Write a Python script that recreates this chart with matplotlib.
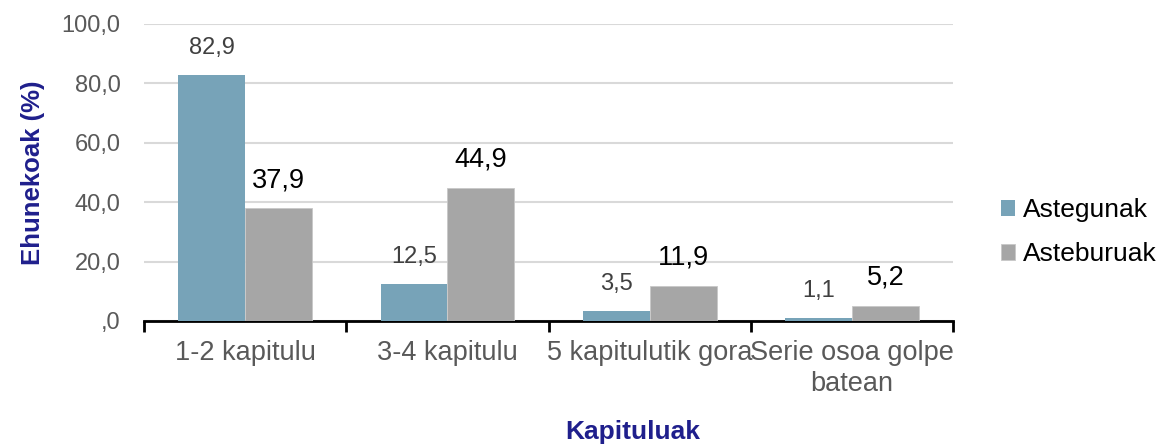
import matplotlib
matplotlib.use('Agg')
import matplotlib.pyplot as plt
import numpy as np

plt.rcParams['font.family'] = ['Liberation Sans', 'DejaVu Sans']

categories = ["1-2 kapitulu", "3-4 kapitulu", "5 kapitulutik gora", "Serie osoa golpe\nbatean"]
astegunak = [82.9, 12.5, 3.5, 1.1]
asteburuak = [37.9, 44.9, 11.9, 5.2]
yticks = [0, 20, 40, 60, 80, 100]

blue = '#77A3B8'
grey = '#A6A6A6'
navy = '#1F1F8C'

fig = plt.figure(figsize=(11.56, 4.45), dpi=100)
ax = fig.add_axes([0.1246, 0.2787, 0.7, 0.6674])

x = np.arange(len(categories))
w = 0.33
b1 = ax.bar(x - w/2, astegunak, w, color=blue, label='Astegunak', zorder=3)
b2 = ax.bar(x + w/2, asteburuak, w, color=grey, label='Asteburuak', zorder=3,
            edgecolor='#C8C8C8', linewidth=0.6)

for r, v in zip(b1, astegunak):
    ax.annotate(f"{v:.1f}".replace('.', ','), (r.get_x() + r.get_width()/2, v),
                xytext=(0, 11.5), textcoords='offset points', ha='center', va='bottom',
                fontsize=17, color='#404040')
for r, v in zip(b2, asteburuak):
    ax.annotate(f"{v:.1f}".replace('.', ','), (r.get_x() + r.get_width()/2, v),
                xytext=(0, 11), textcoords='offset points', ha='center', va='bottom',
                fontsize=19.5, color='black')

ax.set_xlim(-0.5, len(categories) - 0.5)
ax.set_ylim(0, 100)
ax.set_yticks(yticks)
ax.set_yticklabels([",0" if v == 0 else f"{v:.1f}".replace('.', ',') for v in yticks],
                   fontsize=17, color='#595959')
ax.tick_params(axis='y', length=0, pad=17)
ax.yaxis.grid(True, color='#D9D9D9', linewidth=1.5, zorder=0)
ax.set_axisbelow(True)

ax.set_xticks(np.arange(-0.5, len(categories)), minor=False)
ax.set_xticklabels([])
ax.set_xticks(x, minor=True)
ax.set_xticklabels(categories, minor=True, fontsize=19.5, color='#595959', linespacing=1.25)
ax.tick_params(axis='x', which='major', length=8, width=2, direction='out', color='black')
ax.tick_params(axis='x', which='minor', length=0, pad=14)

for s in ['top', 'right', 'left']:
    ax.spines[s].set_visible(False)
ax.spines['bottom'].set_linewidth(2)

ax.set_ylabel("Ehunekoak (%)", fontsize=18.5, fontweight='bold', color=navy, labelpad=12)
fig.text(0.547, 0.029, "Kapituluak", fontsize=19, fontweight='bold', color=navy,
         ha='center', va='center')

fig.legend(handles=[b1, b2], loc='center left', bbox_to_anchor=(0.845, 0.478),
           frameon=False, fontsize=19, handlelength=0.55, handleheight=0.55,
           handletextpad=0.3, labelspacing=0.75)

fig.savefig('out.png', dpi=100)
